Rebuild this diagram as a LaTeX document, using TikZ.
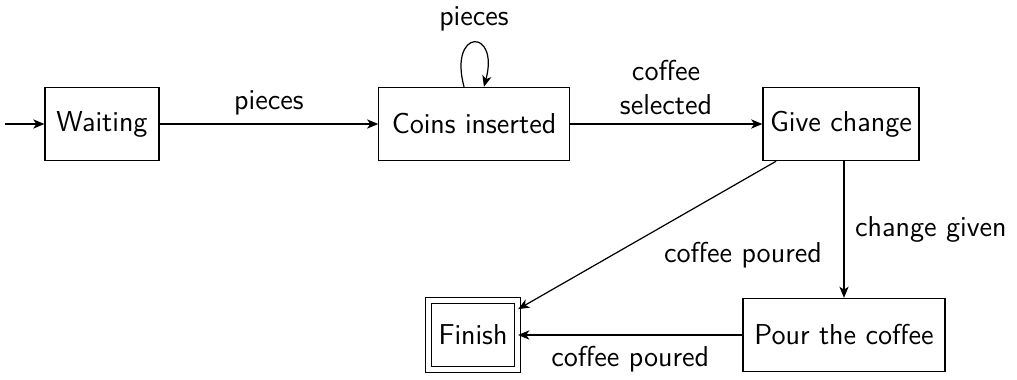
\documentclass[tikz,border=0pt]{standalone}
\usetikzlibrary{arrows.meta}
\begin{document}
\begin{tikzpicture}[x=0.41pt,y=-0.41pt,
  font=\sffamily\fontsize{11.8pt}{14pt}\selectfont,
  line width=0.5pt,
  >={Stealth[length=4.6pt,width=3.8pt,inset=1.3pt]},
  state/.style={draw,rectangle,minimum height=30pt,inner xsep=2.5pt},
  final/.style={draw,rectangle,double,double distance=2pt,minimum height=28.5pt,inner xsep=3pt},
  trans/.style={->}]
  \useasboundingbox (0,0) rectangle (1017,380);

  % states
  \node[state,minimum width=46.7pt] (wait)  at (102,124) {Waiting};
  \node[state,minimum width=78pt]   (coins) at (474,124) {Coins inserted};
  \node[state,minimum width=64pt]   (give)  at (841,124) {Give change};
  \node[final,minimum width=36.5pt] (fin)   at (473,335) {Finish};
  \node[state,minimum width=82.8pt] (pour)  at (844,335) {Pour the coffee};
  \coordinate (start) at (5,124);

  % transitions
  \draw[trans] (start) -- (wait);
  \draw[trans] (wait) -- node[above] {pieces} (coins);
  \draw[trans] (coins) to[out=105,in=75,looseness=1,min distance=25pt]
      node[above,yshift=1pt] {pieces} (coins);
  \draw[trans] (coins) -- node[above,align=center] {coffee\\selected} (give);
  \draw[trans] (give.south -| pour) -- node[right,xshift=1pt] {change given} (pour.north);
  \draw[trans] (give) -- node[pos=0.44,anchor=north west,xshift=-3pt,yshift=-3pt] {coffee poured} (fin);
  \draw[trans] (pour) -- node[below,yshift=-1pt] {coffee poured} (fin);
\end{tikzpicture}
\end{document}
